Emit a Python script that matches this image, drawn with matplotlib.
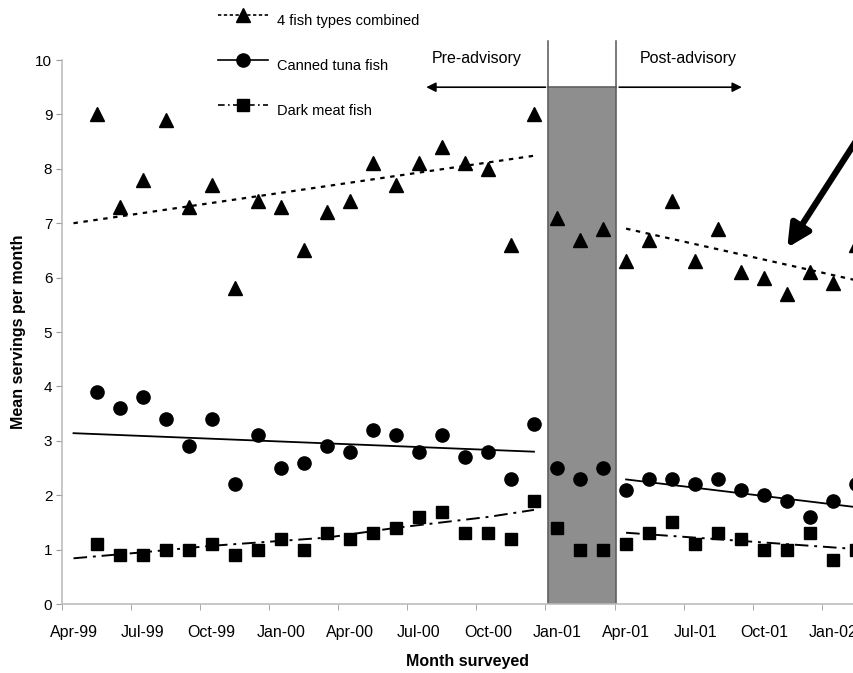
import matplotlib
matplotlib.use("Agg")
import matplotlib.pyplot as plt
import numpy as np
import pandas as pd
from matplotlib.lines import Line2D
from matplotlib.patches import Rectangle

plt.rcParams["font.family"] = ["Liberation Sans", "DejaVu Sans"]

# --- categorias mensais do eixo x (abr/99 a fev/02) ---
months = list(pd.period_range("1999-04", "2002-02", freq="M").strftime("%b-%y"))
surveyed = months[1:]          # primeira pesquisa em May-99

combined = [9.0, 7.3, 7.8, 8.9, 7.3, 7.7, 5.8, 7.4, 7.3, 6.5, 7.2, 7.4,
            8.1, 7.7, 8.1, 8.4, 8.1, 8.0, 6.6, 9.0,
            7.1, 6.7, 6.9,
            6.3, 6.7, 7.4, 6.3, 6.9, 6.1, 6.0, 5.7, 6.1, 5.9, 6.6]
tuna = [3.9, 3.6, 3.8, 3.4, 2.9, 3.4, 2.2, 3.1, 2.5, 2.6, 2.9, 2.8,
        3.2, 3.1, 2.8, 3.1, 2.7, 2.8, 2.3, 3.3,
        2.5, 2.3, 2.5,
        2.1, 2.3, 2.3, 2.2, 2.3, 2.1, 2.0, 1.9, 1.6, 1.9, 2.2]
dark = [1.1, 0.9, 0.9, 1.0, 1.0, 1.1, 0.9, 1.0, 1.2, 1.0, 1.3, 1.2,
        1.3, 1.4, 1.6, 1.7, 1.3, 1.3, 1.2, 1.9,
        1.4, 1.0, 1.0,
        1.1, 1.3, 1.5, 1.1, 1.3, 1.2, 1.0, 1.0, 1.3, 0.8, 1.0]

# linhas de tendência (pré e pós-aviso)
pre_months = ["Apr-99", "Dec-00"]
post_months = ["Apr-01", "Feb-02"]
combined_pre = [7.0, 8.24]
combined_post = [6.9, 5.95]
tuna_pre = [3.14, 2.80]
tuna_post = [2.29, 1.78]
dark_pre_months = ["Apr-99", "Jul-99", "Oct-99", "Mar-00", "Jun-00", "Oct-00", "Dec-00"]
dark_pre = [0.84, 0.95, 1.07, 1.22, 1.40, 1.60, 1.73]
dark_post = [1.31, 1.01]

advisory_months = ["Jan-01", "Mar-01"]   # periodo sombreado
series_names = ["4 fish types combined", "Canned tuna fish", "Dark meat fish"]


def pos(labels):
    return np.array([months.index(m) for m in labels], dtype=float)


x = pos(surveyed)

W, H = 854, 673
fig = plt.figure(figsize=(W / 100, H / 100), dpi=100)
ax = fig.add_axes([62 / W, 69 / H, 1 - 62 / W, 544 / H])
ax.set_xlim(-0.5, 33.9)
ax.set_ylim(0, 10)

lo, hi = pos(advisory_months)
left, right = lo - 0.38, hi + 0.58
ax.add_patch(Rectangle((left, 0), right - left, 9.5, facecolor="#8e8e8e",
                       edgecolor="#606060", lw=1.2, zorder=1))

dotted = (0, (2, 2.5))
dashdot = (0, (7, 3, 1.5, 3))
mk = dict(color="black", linestyle="none", zorder=3)

ax.plot(pos(pre_months), combined_pre, color="black", lw=1.6, ls=dotted, zorder=2)
ax.plot(pos(post_months), combined_post, color="black", lw=1.6, ls=dotted, zorder=2)
ax.plot(pos(pre_months), tuna_pre, color="black", lw=1.3, zorder=2)
ax.plot(pos(post_months), tuna_post, color="black", lw=1.3, zorder=2)
ax.plot(pos(dark_pre_months), dark_pre, color="black", lw=1.4, ls=dashdot, zorder=2)
ax.plot(pos(post_months), dark_post, color="black", lw=1.4, ls=dashdot, zorder=2)

ax.plot(x, combined, marker="^", ms=10, **mk)
ax.plot(x, tuna, marker="o", ms=9.5, **mk)
ax.plot(x, dark, marker="s", ms=9, **mk)

# legenda desenhada a mao (texto um pouco abaixo do simbolo)
styles = [dict(ls=(0, (2, 1.5)), marker="^", ms=10),
          dict(ls="-", marker="o", ms=9.5),
          dict(ls=(0, (4, 2, 1, 2)), marker="s", ms=9)]
for i, (name, st) in enumerate(zip(series_names, styles)):
    yy = 1 - (15 + 45 * i) / H
    fig.add_artist(Line2D([218 / W, 268 / W], [yy, yy], color="black", lw=1.2,
                          markevery=[], transform=fig.transFigure, ls=st["ls"]))
    fig.add_artist(Line2D([243 / W], [yy], color="black", marker=st["marker"],
                          ms=st["ms"], ls="none", transform=fig.transFigure))
    fig.text(277 / W, yy - 6 / H, name, fontsize=10.5, va="center", ha="left")

# marcacoes pre/pos-aviso
top = 10.35
for xv in (left, right):
    ax.plot([xv, xv], [9.5, top], color="#555555", lw=1.1, clip_on=False, zorder=2)
ax.annotate("", xy=(15.2, 9.5), xytext=(left, 9.5),
            arrowprops=dict(arrowstyle="-|>", color="black", lw=1.2, mutation_scale=14),
            annotation_clip=False)
ax.annotate("", xy=(29.15, 9.5), xytext=(right, 9.5),
            arrowprops=dict(arrowstyle="-|>", color="black", lw=1.2, mutation_scale=14),
            annotation_clip=False)
ax.text(17.5, 10.02, "Pre-advisory", ha="center", va="center", fontsize=11.5, clip_on=False)
ax.text(26.7, 10.02, "Post-advisory", ha="center", va="center", fontsize=11.5, clip_on=False)

# seta grossa apontando a queda pos-aviso
ax.annotate("", xy=(31.0, 6.55), xytext=(34.2, 8.65),
            arrowprops=dict(arrowstyle="-|>", color="black", lw=4.5, mutation_scale=34,
                            shrinkA=0, shrinkB=0),
            annotation_clip=False)

# eixos no estilo Excel
for s in ("top", "right"):
    ax.spines[s].set_visible(False)
for s in ("left", "bottom"):
    ax.spines[s].set_color("#bdbdbd")
    ax.spines[s].set_linewidth(1.2)

ax.set_yticks(range(0, 11))
ax.tick_params(axis="y", length=4, color="#9a9a9a", labelsize=11, pad=3)
ax.set_xticks(np.arange(0, len(months), 3))
ax.set_xticklabels(months[::3])
ax.set_xticks(np.arange(-0.5, 34, 3), minor=True)
ax.tick_params(axis="x", which="major", length=0, labelsize=11.5, pad=15)
ax.tick_params(axis="x", which="minor", length=4, color="#9a9a9a")

ax.set_xlabel("Month surveyed", fontsize=11.5, fontweight="bold")
ax.xaxis.set_label_coords((468 - 62) / 792, -0.092)
ax.set_ylabel("Mean servings per month", fontsize=11.5, fontweight="bold")
ax.yaxis.set_label_coords(-0.045, 0.5)

fig.savefig("out.png", dpi=100)
